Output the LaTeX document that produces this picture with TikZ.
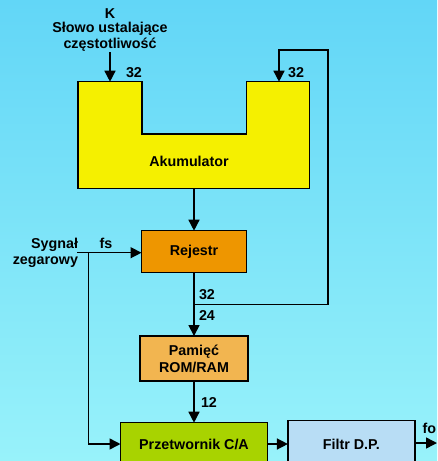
\documentclass[tikz,border=0pt]{standalone}
\usepackage{fontspec}
\setmainfont{Liberation Sans}
\usetikzlibrary{arrows.meta}
\definecolor{bgtop}{HTML}{62D6F7}
\definecolor{bgbot}{HTML}{98F2FA}
\definecolor{akuY}{HTML}{F5F000}
\definecolor{rejO}{HTML}{EE9600}
\definecolor{pamO}{HTML}{F2B550}
\definecolor{prGr}{HTML}{A8D300}
\definecolor{filB}{HTML}{B8DDF5}
\begin{document}
\begin{tikzpicture}[x=1pt,y=1pt,
  every node/.style={font=\fontsize{14.3}{15.5}\selectfont\bfseries, inner sep=0pt, outer sep=0pt},
  box/.style={draw=black, line width=1.5pt},
  wire/.style={line width=1.5pt, line join=miter},
  conn/.style={line width=1.5pt, line join=miter, -{Triangle[length=11pt,width=11pt]}}
]
\useasboundingbox (0,0) rectangle (437,-461);
\shade[top color=bgtop, bottom color=bgbot] (0,0) rectangle (437,-461);
\clip (0,0) rectangle (437,-461);

% Akumulator (U shape)
\draw[fill=akuY, line width=1.5pt, line join=miter]
  (78,-81.7) -- (142,-81.7) -- (142,-134) -- (246.7,-134) -- (246.7,-81.7)
  -- (309.7,-81.7) -- (309.7,-188.7) -- (78,-188.7) -- cycle;
\node (akum) at (189,-161.7) {Akumulator};
\coordinate (accL) at (110,-81.7);
\coordinate (accR) at (279,-81.7);
\coordinate (accB) at (194,-188.7);

% input word
\node[align=center, inner sep=1pt, anchor=south] (kin) at (110,-52)
  {K\\[-2pt]Słowo ustalające\\[0.5pt]częstotliwość};
\draw[conn] (kin.south) -- (accL);
\node (l32a) at (134,-72.7) {32};
\node (l32b) at (296,-72.7) {32};

% Rejestr
\node[box, fill=rejO, minimum width=105pt, minimum height=42pt] (rej) at (194,-251.7) {Rejestr};
\draw[conn] (accB) -- (rej.north);

% clock
\node[align=right, anchor=east] (clk) at (78,-253) {Sygnał\\zegarowy};
\coordinate (clkA) at (77,-252.7);
\coordinate (clkS) at (88.7,-252.7);
\draw[conn] (clkA) -- (rej.west |- clkA);
\node (lfs) at (106,-243) {fs};

% Pamiec
\node[box, fill=pamO, minimum width=108pt, minimum height=44.7pt, align=center,
      font=\fontsize{14.3}{17}\selectfont\bfseries] (pam) at (194,-358.4) {Pamięć\\ROM/RAM};
\draw[conn] (rej.south) -- (pam.north);
\coordinate (fb) at (194,-304.3);
\coordinate (fbR) at (328,-304.3);
\coordinate (fbT) at (328,-50);
\coordinate (fbL) at (279,-50);
\draw[conn] (fb) -- (fbR) -- (fbT) -- (fbL) -- (accR);
\node (l32c) at (207,-295) {32};
\node (l24) at (207,-316) {24};

% Przetwornik
\node[box, fill=prGr, minimum width=147pt, minimum height=44pt] (dac) at (194,-444.7) {Przetwornik C/A};
\draw[conn] (pam.south) -- (dac.north);
\node (l12) at (209,-402.7) {12};
\coordinate (clkD) at (88.7,-444);
\draw[conn] (clkS) -- (clkD) -- (dac.west |- clkD);

% Filtr
\node[box, fill=filB, minimum width=127pt, minimum height=48pt] (fil) at (351.4,-444.7) {Filtr D.P.};
\draw[conn] (dac.east |- clkD) -- (fil.west |- clkD);
\coordinate (out) at (437,-443);
\draw[conn] (fil.east |- out) -- (out);
\node[anchor=west] (lfo) at (422.5,-428) {fo};
\end{tikzpicture}
\end{document}
